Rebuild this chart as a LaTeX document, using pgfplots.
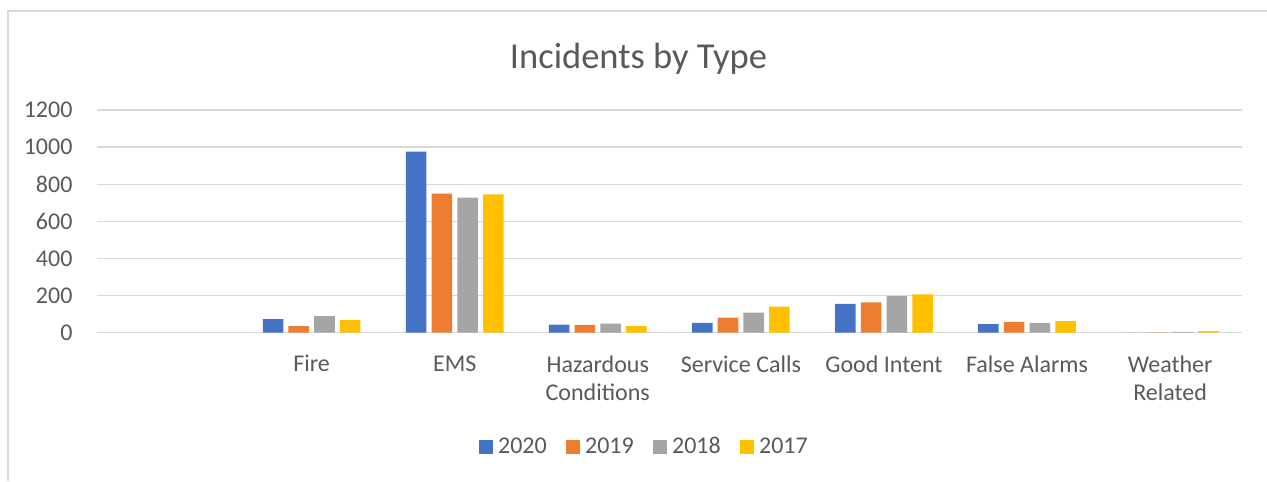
\documentclass[border=0pt]{standalone}
\usepackage{pgfplots}
\pgfplotsset{compat=1.18}
\usepackage{fontspec}
\setmainfont{Carlito}
\definecolor{c2020}{HTML}{4472C4}
\definecolor{c2019}{HTML}{ED7D31}
\definecolor{c2018}{HTML}{A5A5A5}
\definecolor{c2017}{HTML}{FFC000}
\definecolor{gridc}{HTML}{D9D9D9}
\definecolor{txt}{HTML}{595959}
\begin{document}
\begin{tikzpicture}
\begin{axis}[
  at={(0pt,0pt)}, anchor=south west,
  scale only axis,
  width=858.5pt, height=166.9pt,
  ymin=0, ymax=1200,
  ytick={0,200,...,1200},
  xmin=-0.5, xmax=7.5,
  xtick={0,1,2,3,4,5,6,7},
  xticklabels={{},Fire,EMS,{Hazardous\\Conditions},Service Calls,Good Intent,False Alarms,{Weather\\Related}},
  ybar=3.9pt, bar width=15.4pt,
  axis line style={draw=none},
  major tick length=0pt,
  ymajorgrids, major grid style={gridc, line width=0.9pt},
  /pgf/number format/assume math mode=true,
  /pgf/number format/1000 sep={},
  ticklabel style={font=\fontsize{18}{21}\selectfont, text=txt},
  yticklabel style={inner sep=0pt, xshift=-18.2pt},
  xticklabel style={align=center, inner sep=0pt, anchor=north, yshift=-17pt},
  legend style={at={(0.4774,-0.513)}, anchor=center, draw=none, fill=none,
    legend columns=4, font=\fontsize{18}{21}\selectfont, text=txt,
    nodes={inner sep=0pt},
    /tikz/every odd column/.append style={column sep=3.75pt},
    /tikz/every even column/.append style={column sep=14.5pt}},
  legend image code/.code={\fill[#1] (0pt,-5.25pt) rectangle (10.5pt,5.25pt);},
]
\addplot[fill=c2020, draw=none] coordinates {(1,72) (2,975) (3,43) (4,52) (5,154) (6,46) (7,0)};
\addplot[fill=c2019, draw=none] coordinates {(1,35) (2,749) (3,41) (4,81) (5,163) (6,57) (7,1)};
\addplot[fill=c2018, draw=none] coordinates {(1,89) (2,728) (3,48) (4,108) (5,196) (6,52) (7,3)};
\addplot[fill=c2017, draw=none] coordinates {(1,67) (2,745) (3,34) (4,140) (5,206) (6,61) (7,7)};
\legend{2020,2019,2018,2017}
\end{axis}
\node[anchor=base, text=txt, font=\fontsize{27.4}{33}\selectfont, inner sep=0pt] at (406.1pt,198pt) {Incidents by Type};
\draw[gridc, line width=1pt] (-66.75pt,-111.4pt) -- (-66.75pt,241.1pt) -- (877.5pt,241.1pt);
\pgfresetboundingbox
\path[use as bounding box] (-72.75pt,-111.4pt) rectangle (877.5pt,249.4pt);
\end{tikzpicture}
\end{document}
